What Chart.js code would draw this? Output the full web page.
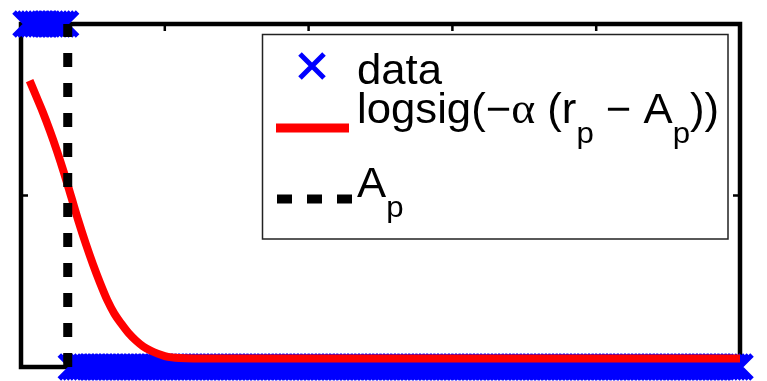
<!DOCTYPE html>
<html><head><meta charset="utf-8">
<script src="https://cdn.jsdelivr.net/npm/chart.js@4/dist/chart.umd.min.js"></script>
<style>html,body{margin:0;padding:0;background:#fff;overflow:hidden}#wrap{width:767px;height:381px;position:relative}</style>
</head><body><div id="wrap"><canvas id="c" width="767" height="381"></canvas></div>
<script>
// r_p values of samples labelled 1 (inside) and 0 (outside)
const insideR = [0.7,1.2,1.7,2.2,2.7,3.2,3.7,4.2,4.7,5.2,5.7,6.2];
const outsideR = [7,7.5,8,8.5,9,9.5,10,10.5,11,11.5,12,12.5,13,13.5,14,14.5,15,15.5,16,16.5,
  17,17.5,18,18.5,19,19.5,20,20.5,21,21.5,22,22.5,23,23.5,24,24.5,25,25.5,26,26.5,
  27,27.5,28,28.5,29,29.5,30,30.5,31,31.5,32,32.5,33,33.5,34,34.5,35,35.5,36,36.5,
  37,37.5,38,38.5,39,39.5,40,40.5,41,41.5,42,42.5,43,43.5,44,44.5,45,45.5,46,46.5,
  47,47.5,48,48.5,49,49.5,50,50.5,51,51.5,52,52.5,53,53.5,54,54.5,55,55.5,56,56.5,
  57,57.5,58,58.5,59,59.5,60,60.5,61,61.5,62,62.5,63,63.5,64,64.5,65,65.5,66,66.5,
  67,67.5,68,68.5,69,69.5,70,70.5,71,71.5,72,72.5,73,73.5,74,74.5,75,75.5,76,76.5,
  77,77.5,78,78.5,79,79.5,80,80.5,81,81.5,82,82.5,83,83.5,84,84.5,85,85.5,86,86.5,
  87,87.5,88,88.5,89,89.5,90,90.5,91,91.5,92,92.5,93,93.5,94,94.5,95,95.5,96,96.5,
  97,97.5,98,98.5,99,99.5,100];
// fitted logistic curve
const curveR = [1.2,2,3,4,5,6,7,8,9,10,11,12,13,14,15,16,17,18,19,20,21,22,24,27,30,40,50,60,70,80,90,100];
const curveV = [0.835,0.795,0.745,0.69,0.63,0.565,0.495,0.425,0.36,0.30,0.245,0.195,0.155,0.125,0.098,0.077,0.060,0.048,0.039,0.032,0.028,0.026,0.025,0.025,0.025,0.025,0.025,0.025,0.025,0.025,0.025,0.025];
const thresholdA = 6.5;
const xTicks = [0,20,40,60,80,100];
const yTicks = [0,0.5,1];
const legendLabels = ['data','logsig(\u2212\u03B1 (r_p \u2212 A_p))','A_p'];

function parseRich(s){
  const runs=[];
  for(let i=0;i<s.length;i++){
    const ch=s[i];
    if(ch==='_'){runs.push({t:s[i+1],sub:true});i++;}
    else if(ch==='\u03B1'){runs.push({t:ch,serif:true});}
    else{
      const last=runs[runs.length-1];
      if(last && !last.sub && !last.serif) last.t+=ch; else runs.push({t:ch});
    }
  }
  return runs;
}
function drawRich(ctx,s,x,base){
  const MAIN='42px "Liberation Sans", Arial, sans-serif';
  const SUB='30px "Liberation Sans", Arial, sans-serif';
  const SER='44px "Liberation Serif", "DejaVu Serif", serif';
  const sx=1.04;
  ctx.save();ctx.translate(x,0);ctx.scale(sx,1);
  ctx.textBaseline='alphabetic';ctx.textAlign='left';ctx.fillStyle='#000';
  let cx=0;
  parseRich(s).forEach(r=>{
    ctx.font=r.sub?SUB:(r.serif?SER:MAIN);
    const y=r.sub?base+20:base;
    ctx.fillText(r.t,cx,y);
    cx+=ctx.measureText(r.t).width;
  });
  ctx.restore();
}

const framePlugin={id:'frame',beforeDatasetsDraw(chart){
  const {ctx,chartArea:a,scales:{x,y}}=chart;
  ctx.save();ctx.strokeStyle='#000';ctx.lineWidth=4.5;
  ctx.strokeRect(a.left,a.top,a.right-a.left,a.bottom-a.top);
  ctx.lineWidth=2.5;ctx.beginPath();
  xTicks.forEach(v=>{const p=x.getPixelForValue(v);ctx.moveTo(p,a.top);ctx.lineTo(p,a.top+7);ctx.moveTo(p,a.bottom);ctx.lineTo(p,a.bottom-7);});
  yTicks.forEach(v=>{const p=y.getPixelForValue(v);ctx.moveTo(a.left,p);ctx.lineTo(a.left+7,p);ctx.moveTo(a.right,p);ctx.lineTo(a.right-7,p);});
  ctx.stroke();ctx.restore();
}};

const legendPlugin={id:'mlegend',afterDraw(chart){
  const ctx=chart.ctx;ctx.save();
  ctx.fillStyle='#fff';ctx.fillRect(262,34,466,205);
  ctx.strokeStyle='#222';ctx.lineWidth=1.5;ctx.strokeRect(262.5,34.5,465.5,204.5);
  ctx.strokeStyle='#0000ff';ctx.lineWidth=5;ctx.beginPath();
  ctx.moveTo(300,54);ctx.lineTo(324,78);ctx.moveTo(324,54);ctx.lineTo(300,78);ctx.stroke();
  drawRich(ctx,legendLabels[0],357,84);
  ctx.strokeStyle='#ff0000';ctx.lineWidth=9;ctx.beginPath();ctx.moveTo(276,128);ctx.lineTo(349,128);ctx.stroke();
  drawRich(ctx,legendLabels[1],357,123);
  ctx.strokeStyle='#000';ctx.lineWidth=9;ctx.setLineDash([15,15]);ctx.beginPath();ctx.moveTo(277,199);ctx.lineTo(352,199);ctx.stroke();ctx.setLineDash([]);
  drawRich(ctx,legendLabels[2],357,197);
  ctx.restore();
}};

new Chart(document.getElementById('c').getContext('2d'),{
  type:'scatter',
  data:{datasets:[
    {label:'A_p',data:[{x:thresholdA,y:0},{x:thresholdA,y:1}],showLine:true,borderColor:'#000',borderWidth:9,borderDash:[14,16],pointRadius:0,order:1,clip:false},
    {label:'logsig',data:curveR.map((r,i)=>({x:r,y:curveV[i]})),showLine:true,borderColor:'#ff0000',borderWidth:8,borderJoinStyle:'round',cubicInterpolationMode:'monotone',pointRadius:0,order:2,clip:false},
    {label:'data',data:[...insideR.map(r=>({x:r,y:1})),...outsideR.map(r=>({x:r,y:0}))],showLine:false,pointStyle:'crossRot',pointRadius:17,pointBorderWidth:5,pointBorderColor:'#0000ff',pointBackgroundColor:'#0000ff',borderColor:'#0000ff',order:3,clip:false}
  ]},
  options:{responsive:false,animation:false,devicePixelRatio:1,events:[],
    layout:{autoPadding:false,padding:{left:21,top:24,right:27,bottom:14}},
    plugins:{legend:{display:false},tooltip:{enabled:false}},
    scales:{x:{type:'linear',min:0,max:100,display:false},y:{type:'linear',min:0,max:1,display:false}}
  },
  plugins:[framePlugin,legendPlugin]
});
</script></body></html>
